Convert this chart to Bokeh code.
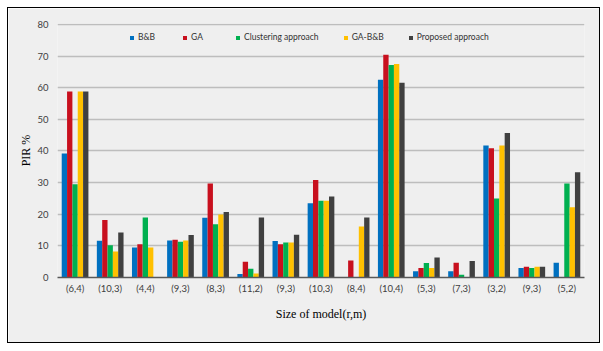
from bokeh.plotting import figure
from bokeh.models import ColumnDataSource, Range1d, FixedTicker, Legend
from bokeh.transform import dodge
from bokeh.embed import file_html
from bokeh.resources import INLINE

categories = ["(6,4)", "(10,3)", "(4,4)", "(9,3)", "(8,3)", "(11,2)", "(9,3)", "(10,3)",
              "(8,4)", "(10,4)", "(5,3)", "(7,3)", "(3,2)", "(9,3)", "(5,2)"]
bb = [39.2, 11.6, 9.5, 11.7, 18.9, 1.1, 11.5, 23.5, 0.0, 62.5, 2.0, 2.0, 41.7, 3.0, 4.7]
ga = [58.8, 18.2, 10.5, 11.9, 29.7, 5.0, 10.5, 30.8, 5.4, 70.4, 3.0, 4.7, 40.9, 3.4, 0.0]
clustering = [29.5, 10.2, 19.0, 11.3, 16.8, 2.8, 11.1, 24.3, 0.0, 67.2, 4.6, 0.9, 25.0, 3.0, 29.7]
ga_bb = [58.8, 8.2, 9.5, 11.7, 19.9, 1.3, 11.1, 24.3, 16.1, 67.5, 3.0, 0.0, 41.7, 3.4, 22.2]
proposed = [58.8, 14.2, 0.0, 13.4, 20.7, 19.0, 13.5, 25.6, 19.0, 61.6, 6.3, 5.2, 45.7, 3.4, 33.3]
y_ticks = [0, 10, 20, 30, 40, 50, 60, 70, 80]

series = [("B&B", bb, "#0070c0"), ("GA", ga, "#c8101e"), ("Clustering approach", clustering, "#00b050"),
          ("GA-B&B", ga_bb, "#ffc000"), ("Proposed approach", proposed, "#404040")]

idx = list(range(len(categories)))
data = {"idx": idx}
for i, (name, vals, col) in enumerate(series):
    data["s%d" % i] = vals
src = ColumnDataSource(data)

BG = "#efefef"
p = figure(frame_width=527, frame_height=254, output_backend="svg", toolbar_location=None,
           x_range=Range1d(-0.5, len(categories) - 0.5), y_range=Range1d(0, 80.3),
           min_border_left=49, min_border_right=15, min_border_top=15, min_border_bottom=65,
           background_fill_color=BG, border_fill_color=BG, outline_line_color=None)
p.styles = {"border": "1.5px solid #000000", "margin-left": "7px", "margin-top": "7px"}

bw = 0.152
offsets = [-2 * bw, -bw, 0, bw, 2 * bw]
items = []
for i, (name, vals, col) in enumerate(series):
    r = p.vbar(x=dodge("idx", offsets[i], range=p.x_range), top="s%d" % i, width=bw,
               source=src, fill_color=col, line_color=None)
    items.append((name, [r]))

legend = Legend(items=items, orientation="horizontal", location=(72, 235),
                background_fill_alpha=0, border_line_color=None,
                label_text_font="Lato", label_text_font_size="8.5px", label_text_color="#333333",
                glyph_width=5, glyph_height=5, label_standoff=4, spacing=24,
                margin=0, padding=0, label_height=9)
p.add_layout(legend, "center")

p.xaxis.ticker = FixedTicker(ticks=idx)
p.xaxis.major_label_overrides = {i: c for i, c in enumerate(categories)}
p.xaxis.major_tick_line_color = None
p.xaxis.major_tick_out = 0
p.xaxis.minor_tick_line_color = None
p.xaxis.axis_line_color = "#595959"
p.xaxis.axis_line_width = 1.5
p.xaxis.major_label_text_font = "Lato"
p.xaxis.major_label_text_font_size = "9.5px"
p.xaxis.major_label_text_color = "#404040"
p.xaxis.major_label_standoff = 5
p.xaxis.axis_label = "Size of model(r,m)"
p.xaxis.axis_label_text_font = "Liberation Serif"
p.xaxis.axis_label_text_font_style = "normal"
p.xaxis.axis_label_text_font_size = "12px"
p.xaxis.axis_label_text_color = "#000000"
p.xaxis.axis_label_standoff = 10

p.yaxis.ticker = FixedTicker(ticks=y_ticks)
p.yaxis.axis_line_color = None
p.yaxis.major_tick_line_color = None
p.yaxis.major_tick_out = 0
p.yaxis.minor_tick_line_color = None
p.yaxis.major_label_text_font = "Lato"
p.yaxis.major_label_text_font_size = "9.5px"
p.yaxis.major_label_text_color = "#404040"
p.yaxis.major_label_standoff = 9
p.yaxis.axis_label = "PIR %"
p.yaxis.axis_label_text_font = "Liberation Serif"
p.yaxis.axis_label_text_font_style = "normal"
p.yaxis.axis_label_text_font_size = "12px"
p.yaxis.axis_label_text_color = "#000000"
p.yaxis.axis_label_standoff = 1

p.xgrid.grid_line_color = None
p.ygrid.grid_line_color = "#bdbdbd"
p.ygrid.grid_line_width = 1.5

open("out.html", "w").write(file_html(p, INLINE))
